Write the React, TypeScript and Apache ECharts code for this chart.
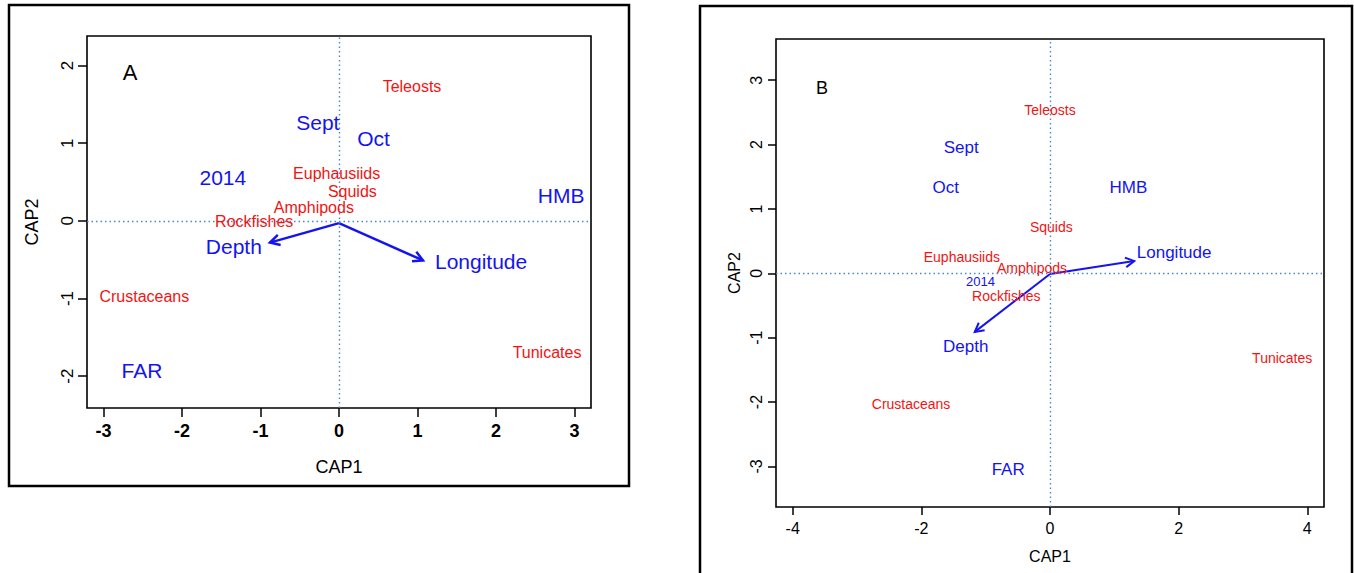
import React, { useEffect, useRef } from "react";
import * as echarts from "echarts";

const FONT = "'Liberation Sans', Arial, Helvetica, sans-serif";
const RED = "#f01414";
const BLUE = "#1414f0";

// Tick values
const ticksAx = [-3, -2, -1, 0, 1, 2, 3];
const ticksAy = [-2, -1, 0, 1, 2];
const ticksBx = [-4, -2, 0, 2, 4];
const ticksBy = [-3, -2, -1, 0, 1, 2, 3];

// Panel A
const speciesNames = ["Teleosts", "Euphausiids", "Squids", "Amphipods", "Rockfishes", "Crustaceans", "Tunicates"];
const speciesA = [[0.93, 1.73], [-0.03, 0.61], [0.17, 0.38], [-0.32, 0.17], [-1.08, -0.01], [-2.48, -0.97], [2.65, -1.69]];
const factorNames = ["Sept", "Oct", "2014", "HMB", "Depth", "Longitude", "FAR"];
const factorA = [[-0.27, 1.27], [0.44, 1.06], [-1.48, 0.56], [2.83, 0.33], [-1.34, -0.33], [1.81, -0.52], [-2.51, -1.93]];
const arrowNames = ["Depth", "Longitude"];
const arrowOriginA = [0, -0.03];
const arrowA = [[-0.88, -0.28], [1.07, -0.51]];

// Panel B
const speciesB = [[0.0, 2.54], [-1.37, 0.25], [0.02, 0.72], [-0.28, 0.08], [-0.68, -0.35], [-2.16, -2.03], [3.61, -1.31]];
const factorB = [[-1.38, 1.95], [-1.62, 1.33], [-1.08, -0.13], [1.22, 1.33], [-1.31, -1.14], [1.93, 0.32], [-0.65, -3.04]];
const arrowOriginB = [0, -0.01];
const arrowB = [[-1.17, -0.91], [1.31, 0.19]];

function labelSeries(names: string[], pts: number[][], color: string, size: number, xi: number, sizes?: Record<string, number>) {
  return {
    type: "scatter",
    xAxisIndex: xi,
    yAxisIndex: xi,
    symbol: "circle",
    symbolSize: 1,
    itemStyle: { color: "rgba(0,0,0,0)", opacity: 1 },
    silent: true,
    z: 5,
    data: names.map((n, i) => ({
      name: n,
      value: pts[i],
      label: { fontSize: sizes && sizes[n] ? sizes[n] : size },
    })),
    label: {
      show: true,
      position: "inside",
      formatter: (p: any) => p.name,
      color,
      opacity: 1,
      fontFamily: FONT,
      fontSize: size,
    },
  };
}

function arrowSeries(origin: number[], tips: number[][], xi: number, lw: number, head: number) {
  return {
    type: "custom",
    xAxisIndex: xi,
    yAxisIndex: xi,
    silent: true,
    z: 4,
    data: tips.map((t, i) => ({ name: arrowNames[i], value: t })),
    renderItem: (params: any, api: any) => {
      const p0 = api.coord(origin);
      const p1 = api.coord([api.value(0), api.value(1)]);
      const ang = Math.atan2(p1[1] - p0[1], p1[0] - p0[0]);
      const a1 = ang + Math.PI - 0.5;
      const a2 = ang + Math.PI + 0.5;
      return {
        type: "group",
        children: [
          {
            type: "line",
            shape: { x1: p0[0], y1: p0[1], x2: p1[0], y2: p1[1] },
            style: { stroke: BLUE, lineWidth: lw },
          },
          {
            type: "polyline",
            shape: {
              points: [
                [p1[0] + head * Math.cos(a1), p1[1] + head * Math.sin(a1)],
                [p1[0], p1[1]],
                [p1[0] + head * Math.cos(a2), p1[1] + head * Math.sin(a2)],
              ],
            },
            style: { stroke: BLUE, lineWidth: lw, fill: "none" },
          },
        ],
      };
    },
  };
}

function zeroLines(xi: number) {
  return {
    type: "line",
    xAxisIndex: xi,
    yAxisIndex: xi,
    data: [],
    silent: true,
    markLine: {
      silent: true,
      symbol: "none",
      label: { show: false },
      lineStyle: { color: "#4a88cc", type: [1.5, 3], width: 1.4, opacity: 1 },
      data: [{ xAxis: 0 }, { yAxis: 0 }],
    },
  };
}

function xAxis(gi: number, min: number, max: number, ticks: number[], opts: any) {
  return {
    gridIndex: gi,
    type: "value",
    min,
    max,
    axisLine: { show: false, onZero: false },
    splitLine: { show: false },
    axisTick: { show: true, inside: false, length: opts.tickLen, lineStyle: { color: "#000", width: 1.5 }, customValues: ticks },
    axisLabel: {
      customValues: ticks,
      margin: opts.margin,
      fontSize: opts.fontSize,
      fontWeight: opts.fontWeight,
      color: "#000",
      fontFamily: FONT,
    },
    name: "CAP1",
    nameLocation: "middle",
    nameGap: opts.nameGap,
    nameTextStyle: { fontSize: opts.nameSize, color: "#000", fontFamily: FONT },
  };
}

function yAxis(gi: number, min: number, max: number, ticks: number[], opts: any) {
  return {
    gridIndex: gi,
    type: "value",
    min,
    max,
    axisLine: { show: false, onZero: false },
    splitLine: { show: false },
    axisTick: { show: true, inside: false, length: opts.tickLen, lineStyle: { color: "#000", width: 1.5 }, customValues: ticks },
    axisLabel: {
      customValues: ticks,
      rotate: 90,
      margin: opts.margin,
      fontSize: opts.fontSize,
      fontWeight: opts.fontWeight,
      color: "#000",
      fontFamily: FONT,
    },
    name: "CAP2",
    nameLocation: "middle",
    nameGap: opts.nameGap,
    nameTextStyle: { fontSize: opts.nameSize, color: "#000", fontFamily: FONT },
  };
}

export default function App() {
  const ref = useRef<HTMLDivElement>(null);
  useEffect(() => {
    if (!ref.current) return;
    const chart = echarts.init(ref.current, undefined, { renderer: "svg" });
    chart.setOption({
      animation: false,
      backgroundColor: "#fff",
      grid: [
        { left: 87, top: 36, width: 504, height: 372, show: true, borderColor: "#000", borderWidth: 1.6, backgroundColor: "transparent" },
        { left: 776, top: 39, width: 548, height: 468, show: true, borderColor: "#000", borderWidth: 1.6, backgroundColor: "transparent" },
      ],
      xAxis: [
        xAxis(0, -3.21, 3.21, ticksAx, { tickLen: 9, margin: 14, fontSize: 18, fontWeight: "bold", nameGap: 50, nameSize: 18 }),
        xAxis(1, -4.26, 4.26, ticksBx, { tickLen: 8, margin: 13, fontSize: 16, fontWeight: "normal", nameGap: 41, nameSize: 16 }),
      ],
      yAxis: [
        yAxis(0, -2.41, 2.38, ticksAy, { tickLen: 9, margin: 11, fontSize: 17, fontWeight: "normal", nameGap: 46, nameSize: 18 }),
        yAxis(1, -3.63, 3.64, ticksBy, { tickLen: 8, margin: 12, fontSize: 16, fontWeight: "normal", nameGap: 34, nameSize: 16 }),
      ],
      graphic: [
        { type: "rect", shape: { x: 9, y: 5, width: 620, height: 481 }, style: { fill: "none", stroke: "#000", lineWidth: 2.5 }, z: 10 },
        { type: "rect", shape: { x: 700, y: 6, width: 652, height: 600 }, style: { fill: "none", stroke: "#000", lineWidth: 2.5 }, z: 10 },
        { type: "text", x: 130, y: 72, style: { text: "A", fontSize: 22, fontFamily: FONT, fill: "#000", align: "center", verticalAlign: "middle" }, z: 10 },
        { type: "text", x: 822, y: 88, style: { text: "B", fontSize: 18, fontFamily: FONT, fill: "#000", align: "center", verticalAlign: "middle" }, z: 10 },
      ],
      series: [
        zeroLines(0),
        zeroLines(1),
        arrowSeries(arrowOriginA, arrowA, 0, 2.5, 11),
        arrowSeries(arrowOriginB, arrowB, 1, 2, 10),
        labelSeries(speciesNames, speciesA, RED, 16, 0),
        labelSeries(factorNames, factorA, BLUE, 21, 0),
        labelSeries(speciesNames, speciesB, RED, 14, 1),
        labelSeries(factorNames, factorB, BLUE, 17, 1, { "2014": 13 }),
      ],
    });
    return () => chart.dispose();
  }, []);
  return <div ref={ref} style={{ position: "fixed", left: 0, top: 0, width: 1354, height: 573 }} />;
}
